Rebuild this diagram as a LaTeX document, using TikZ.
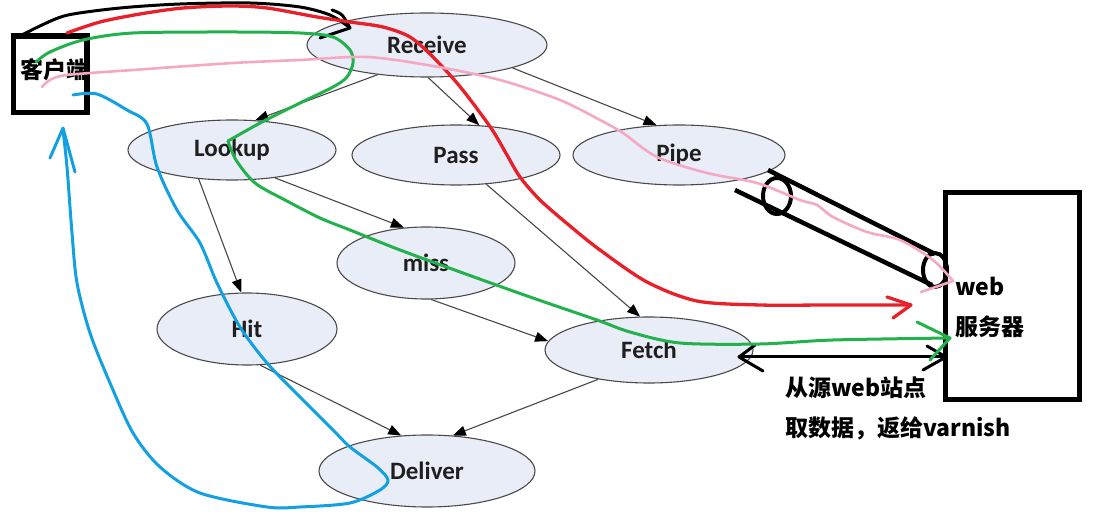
\documentclass[tikz,border=0pt]{standalone}
\usepackage{fontspec}
\setmainfont{Carlito}
\newfontfamily\cjk{Noto Sans CJK SC}
\usetikzlibrary{shapes.geometric,arrows.meta}
\definecolor{efill}{HTML}{E9EDF7}
\definecolor{eline}{HTML}{4A4A4A}
\definecolor{pred}{HTML}{E8202A}
\definecolor{pgreen}{HTML}{22B14C}
\definecolor{ppink}{HTML}{F5A8C4}
\definecolor{pblue}{HTML}{12A0E0}
\begin{document}
\begin{tikzpicture}[x=1pt,y=-1pt,
  state/.style={ellipse, draw=eline, fill=efill, line width=1.1pt, inner sep=0pt,
    font=\fontsize{25}{29}\selectfont\bfseries, text=black!88},
  flow/.style={draw=black!72, line width=1.1pt, -{Triangle[length=13pt,width=10pt,color=black]}},
  stroke/.style={line width=3pt, line cap=round, line join=round},
  thick box/.style={draw=black, line width=5.5pt, inner sep=0pt},
  lbl/.style={font=\cjk\bfseries\fontsize{23}{27}\selectfont, inner sep=0pt, anchor=west}]
\useasboundingbox (0,0) rectangle (1109,529);
% states
\node[state, minimum width=240pt, minimum height=64pt] (rcv) at (427,45) {Receive};
\node[state, minimum width=208pt, minimum height=60pt] (lkp) at (232,150) {Lookup};
\node[state, minimum width=208pt, minimum height=60pt] (pass) at (456,155) {Pass};
\node[state, minimum width=212pt, minimum height=60pt] (pipe) at (679,155) {Pipe};
\node[state, minimum width=178pt, minimum height=72pt] (miss) at (426,263) {miss};
\node[state, minimum width=180pt, minimum height=72pt] (hit) at (247,329) {Hit};
\node[state, minimum width=208pt, minimum height=66pt] (fetch) at (649,350) {Fetch};
\node[state, minimum width=216pt, minimum height=72pt] (dlv) at (427,471) {Deliver};
% flows
\draw[flow] (rcv.211) -- (lkp.52);
\draw[flow] (rcv.272) -- (pass.52);
\draw[flow] (rcv.345) -- (pipe.127);
\draw[flow] (lkp.221) -- (hit.99);
\draw[flow] (lkp.327) -- (miss.122);
\draw[flow] (pass.316) -- (fetch.105);
\draw[flow] (miss.278) -- (fetch.175);
\draw[flow] (hit.290) -- (dlv.126);
\draw[flow] (fetch.210) -- (dlv.54);
% boxes
\node[thick box, minimum width=73.5pt, minimum height=76.5pt] (client) at (50.25,74.25) {};
\node[lbl, anchor=center] (clientlbl) at (55,70) {客户端};
\node[thick box, line width=5pt, minimum width=134pt, minimum height=206.5pt] (web) at (1012.5,296.25) {};
\node[lbl] (weblbl1) at (955,286) {web};
\node[lbl] (weblbl2) at (955,327) {服务器};
\node[lbl] (note1) at (785,388) {从源web站点};
\node[lbl] (note2) at (785,428) {取数据，返给varnish};
% pipe tube
\draw[line width=4.5pt] (768,170) -- (935,254);
\draw[line width=4.5pt] (735,190) -- (932,285);
\draw[line width=4pt] (777,196) ellipse [x radius=14pt, y radius=18pt];
\draw[line width=4pt] (935,270) ellipse [x radius=12pt, y radius=17pt];
% double arrow fetch <-> web
\coordinate (dl) at (739,357);
\coordinate (dr) at (946,357);
\draw[line width=3pt, line cap=round] (dl) -- (dr);
\draw[stroke] (755,345) -- (dl) -- (763,371);
\draw[stroke] (927,346) -- (dr) -- (923,370);
% black stroke
\draw[stroke, black] plot[smooth] coordinates {(20,36) (42,25) (68,15) (120,8) (180,4) (250,3) (300,7) (330,15) (349,27)};
\draw[stroke, black] plot[smooth] coordinates {(332,10) (342,15) (350,28)} -- (320,38);
% red stroke
\draw[stroke, pred, line width=3.3pt] plot[smooth] coordinates {(67,33) (100,22) (140,14) (183,8) (230,6) (267,8) (317,17) (350,22) (383,27) (410,37) (433,57) (457,83) (475,106) (493,131) (507,155) (520,177) (540,200) (570,226) (600,250) (647,282) (697,301) (760,305) (830,305) (910,305)};
\draw[stroke, pred, line width=3.3pt] (887,297) -- (911,305) -- (893,318);
% green stroke
\draw[stroke, pgreen] plot[smooth] coordinates {(36,62) (50,52) (83,40) (133,33) (233,32) (300,33) (333,37) (350,50) (353,63) (347,77) (333,87) (300,103) (262,122) (228,141)};
\draw[stroke, pgreen] plot[smooth] coordinates {(228,141) (236,160) (255,183) (285,200) (320,218) (350,230) (400,250) (463,273) (530,297) (597,320) (630,332) (680,343) (760,344) (833,340) (950,338)};
\draw[stroke, pgreen] (917,322) -- (950,338) -- (930,360);
% pink stroke
\draw[stroke, ppink, line width=2.6pt] plot[smooth] coordinates {(42,87) (50,80) (67,75) (133,70) (233,63) (300,60) (367,57) (433,66) (500,80) (560,100) (600,120) (623,133) (657,157) (707,173) (757,183) (800,200) (817,205) (833,217) (867,232) (900,240) (933,260) (953,281)};
\draw[stroke, ppink, line width=2.6pt] (953,281) -- (921,292);
% blue stroke
\draw[stroke, pblue] plot[smooth] coordinates {(73,95) (97,94) (127,110) (147,124) (157,167) (177,210) (200,243) (217,283) (240,327) (267,363) (300,397) (333,430) (350,447) (377,467) (388,480) (380,490) (350,503) (300,507) (267,507) (200,493) (160,467) (133,433) (110,383) (90,333) (77,283) (72,233) (67,167) (63,130)};
\draw[stroke, pblue] (50,158) -- (63,128) -- (75,172);
\end{tikzpicture}
\end{document}
